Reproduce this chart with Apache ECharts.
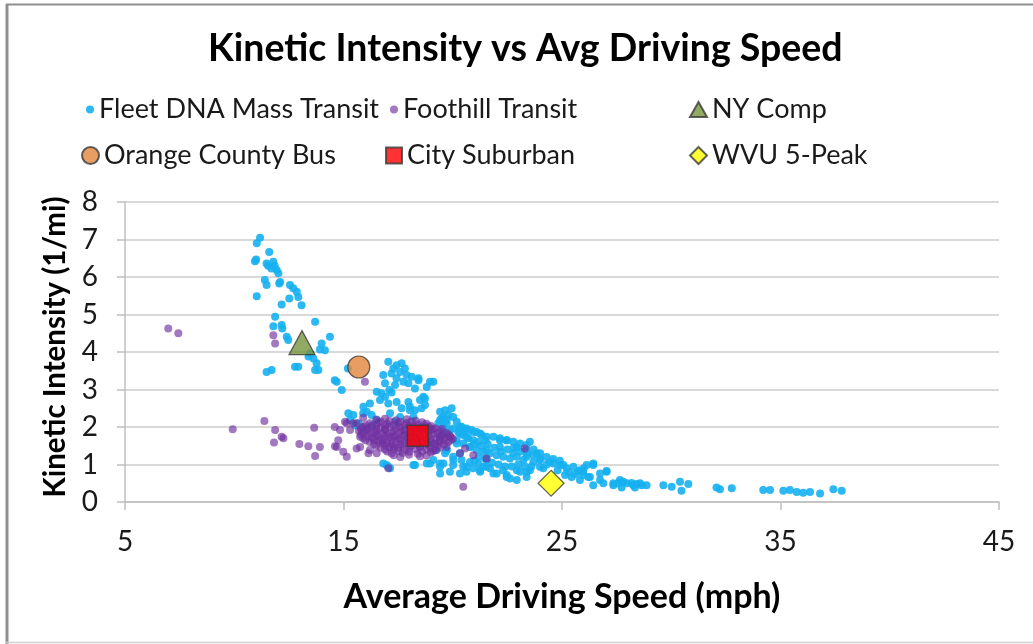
<!DOCTYPE html>
<html>
<head>
<meta charset="utf-8">
<script src="https://cdn.jsdelivr.net/npm/echarts@6/dist/echarts.min.js"></script>
<style>
html,body{margin:0;padding:0;background:#fff;}
#chart{width:1033px;height:644px;}
</style>
</head>
<body>
<div id="chart"></div>
<script>
const seriesNames = ['Fleet DNA Mass Transit','Foothill Transit','NY Comp','Orange County Bus','City Suburban','WVU 5-Peak'];
const xTicks = [5,15,25,35,45];
const yTicks = [0,1,2,3,4,5,6,7,8];

const fleetDNA = [
[11.18,7.05],[11.03,6.9],[11.6,6.67],[11.0,6.47],[10.95,6.42],
[11.48,6.36],[11.79,6.41],[11.94,6.19],[12.02,6.1],[11.7,6.23],[12.1,5.87],[11.4,5.92],[11.48,5.79],[11.55,6.3],[11.85,6.3],
[12.55,5.79],[12.7,5.7],[12.86,5.61],[12.93,5.47],[13.08,5.25],[11.03,5.49],[12.17,5.27],[12.52,5.43],[12.06,5.83],
[11.87,4.94],[11.79,4.69],[12.17,4.72],[12.2,4.63],[13.7,4.81],[12.4,4.41],[12.47,4.32],[14.38,4.41],
[14.0,4.23],[14.15,4.05],[13.92,4.07],[13.47,3.96],[13.62,3.83],[13.77,3.7],[13.7,3.52],[13.4,3.88],[13.85,3.52],
[11.48,3.47],[11.71,3.52],[12.78,3.61],[12.93,3.61],[14.69,3.21],[14.92,2.99],[15.2,3.56],[14.6,3.25],
[17.05,3.74],[17.28,3.56],[17.43,3.65],[17.66,3.7],[17.81,3.56],[17.59,3.47],[17.89,3.39],[18.12,3.34],[17.43,3.3],[17.2,3.43],
[16.82,3.39],[16.9,3.17],[17.74,3.21],[18.43,3.25],[18.81,3.07],[18.96,3.21],[18.27,3.03],[17.97,3.17],[17.36,3.12],[17.1,2.99],[19.11,3.21],[18.43,3.3],
[16.52,2.94],[16.74,2.9],[16.9,2.81],[17.2,2.92],[16.67,2.72],[17.05,2.63],[17.43,2.67],[17.66,2.5],[18.04,2.45],[18.5,2.72],
[18.65,2.81],[18.73,2.59],[18.2,2.27],[17.59,2.27],[17.36,2.14],[17.13,2.37],[16.21,2.63],[16.06,2.41],[16.29,2.32],[16.52,2.19],
[15.9,2.37],[15.22,2.37],[15.3,2.19],[15.53,2.05],[18.73,2.76],[18.57,2.5],[18.27,2.45],[18.04,2.54],[17.97,2.67],[15.45,2.32],[15.91,2.54],[15.68,2.1],
[19.42,2.41],[19.65,2.45],[19.95,2.5],[20.02,2.27],[19.72,2.19],[19.49,2.23],[20.18,2.14],[20.4,2.01],[20.63,1.92],[20.86,1.92],
[21.09,1.87],[21.32,1.79],[21.55,1.74],[21.48,1.65],[21.17,1.61],[20.71,1.7],[20.48,1.79],[20.25,1.87],[19.87,1.92],[19.57,2.01],
[19.34,2.1],[19.8,2.32],[19.57,2.27],
[19.26,1.39],[19.65,1.3],[20.02,1.21],[20.4,1.12],[20.79,1.07],[21.17,1.03],[21.55,1.12],[21.4,0.94],[20.94,0.9],[20.48,0.94],
[20.02,0.99],[19.57,1.03],[19.11,1.12],[18.81,1.03],[18.2,0.99],[19.42,0.76],[19.87,0.81],[20.33,0.76],
[22.16,1.65],[22.93,1.47],[23.38,1.39],[23.69,1.25],[23.99,1.16],[24.45,1.07],[25.06,0.99],[25.52,0.94],[25.82,0.85],[26.43,0.99],
[26.74,0.76],[27.04,0.81],[27.35,0.5],[27.65,0.59],[27.96,0.5],[28.26,0.45],[28.57,0.5],[28.87,0.45],
[26.43,1.03],[27.04,0.83],[26.74,0.59],[26.43,0.45],[26.89,0.5],[27.35,0.45],[27.58,0.5],[27.81,0.54],[28.19,0.51],[28.42,0.48],
[28.65,0.45],[28.34,0.39],[27.73,0.39],[29.64,0.45],[30.02,0.41],[30.4,0.54],[30.78,0.48],[30.47,0.3],[32.07,0.39],[32.23,0.34],
[32.77,0.37],[34.21,0.32],[34.52,0.32],[35.13,0.3],[35.43,0.32],[35.74,0.27],[36.04,0.25],[36.35,0.27],[36.81,0.23],[37.42,0.34],[37.8,0.3],
[24.6,1.03],[24.91,0.99],[25.21,0.9],[25.74,0.81],[25.97,0.72],[26.2,0.67],[25.82,0.59],[25.44,0.67],[25.14,0.72],
[20.33,2.01],[20.63,1.96],[20.94,1.87],[21.25,1.83],[21.86,1.74],[22.16,1.7],[22.47,1.65],[22.77,1.61],[23.08,1.56],[23.38,1.52],[23.53,1.61],
[20.18,1.65],[20.48,1.56],[20.79,1.47],[21.09,1.39],[21.4,1.34],[21.7,1.3],[22.01,1.25],[22.31,1.21],[22.62,1.16],[22.93,1.21],
[23.23,1.12],[23.69,1.07],[23.99,1.12],[23.84,1.3],
[20.63,0.81],[21.25,0.85],[21.86,0.76],[22.47,0.72],[23.08,0.81],[23.53,0.85],[24.14,0.9],[25.97,0.81],[26.28,0.67],[22.62,0.63],[22.93,0.59],[23.38,0.67],
[16.82,1.03],[17.05,0.94],[16.97,0.99],[17.13,0.9],[18.27,0.99],[18.96,1.03],[19.42,0.94],
[19.42,2.19],[19.72,2.1],[20.02,1.96],[20.33,1.83],[20.63,1.74],[20.94,1.65],[19.57,1.83],[20.18,1.56],[19.72,1.39],[20.33,1.3],
[20.79,1.47],[19.42,1.03],[20.02,1.12],[20.63,0.94],[21.25,0.81],[21.55,0.94],[22.01,0.76],[22.47,0.67],[22.93,0.85],[23.38,0.81],
[23.99,0.94],[26.13,0.99],[21.55,1.39],[22.16,1.47],[22.77,1.3],[23.38,1.21],[22.47,1.65],
[21.0,1.55],[21.3,1.5],[21.6,1.55],[21.9,1.45],[22.2,1.35],[22.5,1.4],[22.8,1.45],[23.1,1.35],[23.4,1.3],[23.7,1.4],
[24.0,1.3],[24.3,1.2],[24.6,1.15],[24.9,1.1],[21.2,1.2],[21.5,1.15],[21.8,1.05],[22.1,1.0],[22.4,0.95],[22.7,0.95],
[23.0,1.0],[23.3,0.95],[23.6,0.95],[21.0,1.1],[21.7,0.9],[22.3,0.85],[24.3,1.0],[24.8,0.85],[25.3,0.8],[25.6,0.75],[26.0,0.9],
[19.11,1.56],[19.42,1.74],[19.72,1.39],[16.0,1.92],[16.3,2.05],[15.8,2.0]
];

const foothill = [
[6.98,4.63],[7.44,4.5],[11.79,4.45],[11.87,4.23],[15.98,3.21],
[9.93,1.94],[11.38,2.16],[11.87,1.92],[12.17,1.74],[11.82,1.59],[12.25,1.7],[12.98,1.55],[13.39,1.49],[13.92,1.47],[13.7,1.23],
[13.66,1.98],[14.61,1.49],[14.76,1.65],[14.99,1.34],[15.15,1.21],[14.84,1.92],[15.15,2.1],[15.45,2.1],[15.76,1.47],[16.14,1.3],
[16.52,1.3],[17.05,0.9],[14.6,2.0],[20.48,0.41],
[19.57,1.65],[19.72,1.47],[19.87,1.74],[20.33,1.3],[20.56,1.43],[20.94,1.25],[21.55,1.16],[23.3,1.43],
[15.07,2.14],[15.3,1.92],[14.69,1.47],[15.76,1.74],[16.21,1.39],[15.6,1.43],[15.6,2.1],[15.9,2.25],
[16.5,2.2],[16.9,2.22],[17.4,2.18],[17.9,2.21],[18.3,2.17],
[16.2,2.1],[16.6,2.12],[17.0,2.08],[17.5,2.1],[17.9,2.11],[18.4,2.07],[18.8,2.09],
[15.9,2.0],[16.3,2.02],[16.7,1.98],[17.1,2.01],[17.6,1.99],[18.0,2.02],[18.5,1.98],[18.9,2.0],[19.2,1.97],
[15.7,1.9],[16.1,1.91],[16.5,1.88],[16.9,1.92],[17.3,1.89],[17.7,1.91],[18.1,1.88],[18.6,1.9],[19.0,1.92],[19.4,1.89],
[15.8,1.8],[16.2,1.82],[16.6,1.79],[17.0,1.81],[17.4,1.78],[17.8,1.8],[18.2,1.82],[18.7,1.79],[19.1,1.81],[19.5,1.78],[19.8,1.8],
[15.9,1.7],[16.3,1.71],[16.7,1.68],[17.1,1.72],[17.5,1.69],[17.9,1.7],[18.3,1.71],[18.8,1.68],[19.2,1.7],[19.6,1.71],[20.0,1.69],
[16.2,1.6],[16.6,1.62],[17.0,1.59],[17.4,1.61],[17.8,1.58],[18.2,1.6],[18.6,1.62],[19.0,1.59],[19.4,1.61],[19.8,1.6],
[16.5,1.5],[16.9,1.52],[17.3,1.49],[17.7,1.51],[18.1,1.5],[18.5,1.48],[18.9,1.51],[19.3,1.5],
[16.9,1.4],[17.3,1.42],[17.8,1.39],[18.3,1.41],[18.8,1.4],[19.2,1.38],
[17.2,1.3],[17.7,1.31],[18.4,1.29],[19.0,1.32],
[17.6,1.2],[18.5,1.22],
[16.7,2.15],[17.1,2.16],[17.6,2.14],[18.1,2.15],[18.6,2.13],
[16.0,2.05],[16.5,2.06],[16.9,2.04],[17.3,2.05],[17.8,2.06],[18.2,2.04],[18.7,2.05],[19.0,2.03],
[15.8,1.95],[16.1,1.96],[16.5,1.94],[16.9,1.95],[17.4,1.96],[17.8,1.94],[18.3,1.95],[18.7,1.96],[19.1,1.94],[19.5,1.95],
[15.9,1.85],[16.4,1.86],[16.8,1.84],[17.2,1.85],[17.6,1.86],[18.0,1.84],[18.4,1.85],[18.9,1.86],[19.3,1.84],[19.7,1.85],
[16.1,1.75],[16.5,1.76],[16.9,1.74],[17.3,1.75],[17.7,1.76],[18.1,1.74],[18.5,1.75],[18.9,1.76],[19.4,1.74],[19.9,1.75],
[16.0,1.65],[16.4,1.66],[16.8,1.64],[17.2,1.65],[17.6,1.66],[18.0,1.64],[18.4,1.65],[19.0,1.66],[19.4,1.64],[19.9,1.65],
[16.4,1.55],[16.8,1.56],[17.2,1.54],[17.6,1.55],[18.0,1.56],[18.4,1.54],[18.8,1.55],[19.2,1.56],[19.6,1.54],
[16.7,1.45],[17.1,1.46],[17.5,1.44],[18.0,1.45],[18.5,1.46],[19.0,1.44],[19.4,1.45],
[17.0,1.35],[17.5,1.36],[18.0,1.34],[18.6,1.35],[19.1,1.36],
[17.3,1.25],[18.0,1.26],[18.8,1.24]
];

const nyComp = [[13.1,4.25]];
const orangeCounty = [[15.7,3.6]];
const citySuburban = [[18.4,1.77]];
const wvu5Peak = [[24.5,0.5]];

const FONT = 'Lato, "Open Sans", sans-serif';
const chart = echarts.init(document.getElementById('chart'), null, {renderer:'canvas'});

function legendAt(name, left, top, w, h) {
  return {
    data:[name], left:left, top:top, itemWidth:w, itemHeight:h, itemGap:0,
    textStyle:{fontFamily:FONT, fontSize:27, color:'#1a1a1a'},
    selectedMode:false
  };
}

const option = {
  animation:false,
  backgroundColor:'#ffffff',
  title:{
    text:'Kinetic Intensity vs Avg Driving Speed',
    left:203, top:25,
    textStyle:{fontFamily:FONT, fontSize:37.5, fontWeight:'bold', color:'#000'}
  },
  legend:[
    legendAt(seriesNames[0], 81, 91, 8, 8),
    legendAt(seriesNames[1], 385, 91, 8, 8),
    legendAt(seriesNames[2], 684, 91, 17, 15),
    legendAt(seriesNames[3], 76, 137, 17, 17),
    legendAt(seriesNames[4], 380, 137, 16, 16),
    legendAt(seriesNames[5], 684, 137, 17, 17)
  ],
  grid:{left:125, right:34, top:202, bottom:142, containLabel:false},
  xAxis:{
    type:'value', min:xTicks[0], max:xTicks[xTicks.length-1],
    name:'Average Driving Speed (mph)', nameLocation:'middle', nameGap:78,
    nameTextStyle:{fontFamily:FONT, fontSize:34, fontWeight:'bold', color:'#000'},
    axisLine:{show:true, lineStyle:{color:'#bfbfbf', width:1.5}},
    axisTick:{show:true, length:8, inside:false, customValues:xTicks, lineStyle:{color:'#bfbfbf', width:1.5}},
    axisLabel:{customValues:xTicks, margin:26, fontFamily:FONT, fontSize:28, color:'#1a1a1a'},
    splitLine:{show:false}
  },
  yAxis:{
    type:'value', min:yTicks[0], max:yTicks[yTicks.length-1], interval:1,
    name:'Kinetic Intensity (1/mi)', nameLocation:'middle', nameGap:55, nameRotate:90,
    nameTextStyle:{fontFamily:FONT, fontSize:29.5, fontWeight:'bold', color:'#000', padding:[0,0,0,10]},
    axisLine:{show:true, lineStyle:{color:'#bfbfbf', width:1.5}},
    axisTick:{show:true, length:8, inside:false, lineStyle:{color:'#bfbfbf', width:1.5}},
    axisLabel:{margin:27, fontFamily:FONT, fontSize:28, color:'#1a1a1a'},
    splitLine:{show:true, lineStyle:{color:'#d9d9d9', width:2}}
  },
  series:[
    {name:seriesNames[0], type:'scatter', data:fleetDNA, symbol:'circle', symbolSize:8,
     itemStyle:{color:'#16b0ef', opacity:0.9}, z:2},
    {name:seriesNames[1], type:'scatter', data:foothill, symbol:'circle', symbolSize:8,
     itemStyle:{color:'#7030a0', opacity:0.65}, z:3},
    {name:seriesNames[2], type:'scatter', data:nyComp, symbol:'triangle', symbolSize:[26,24],
     itemStyle:{color:'#77933c', borderColor:'#3a3a3a', borderWidth:1.2}, z:5},
    {name:seriesNames[3], type:'scatter', data:orangeCounty, symbol:'circle', symbolSize:22,
     itemStyle:{color:'#e2863c', borderColor:'#3a3a3a', borderWidth:1.2}, z:5},
    {name:seriesNames[4], type:'scatter', data:citySuburban, symbol:'rect', symbolSize:21,
     itemStyle:{color:'#ff0000', borderColor:'#3a3a3a', borderWidth:1.5}, z:5},
    {name:seriesNames[5], type:'scatter', data:wvu5Peak, symbol:'diamond', symbolSize:26,
     itemStyle:{color:'#ffff00', borderColor:'#3a3a3a', borderWidth:1.2}, z:5}
  ],
  graphic:[
    {type:'line', shape:{x1:6, y1:4.5, x2:1033, y2:4.5}, style:{stroke:'#8f8f8f', lineWidth:2}, silent:true},
    {type:'line', shape:{x1:7, y1:4, x2:7, y2:644}, style:{stroke:'#8f8f8f', lineWidth:3}, silent:true},
    {type:'line', shape:{x1:6, y1:642.5, x2:1033, y2:642.5}, style:{stroke:'#d0d0d0', lineWidth:1.5}, silent:true}
  ]
};
chart.setOption(option);
</script>
</body>
</html>
